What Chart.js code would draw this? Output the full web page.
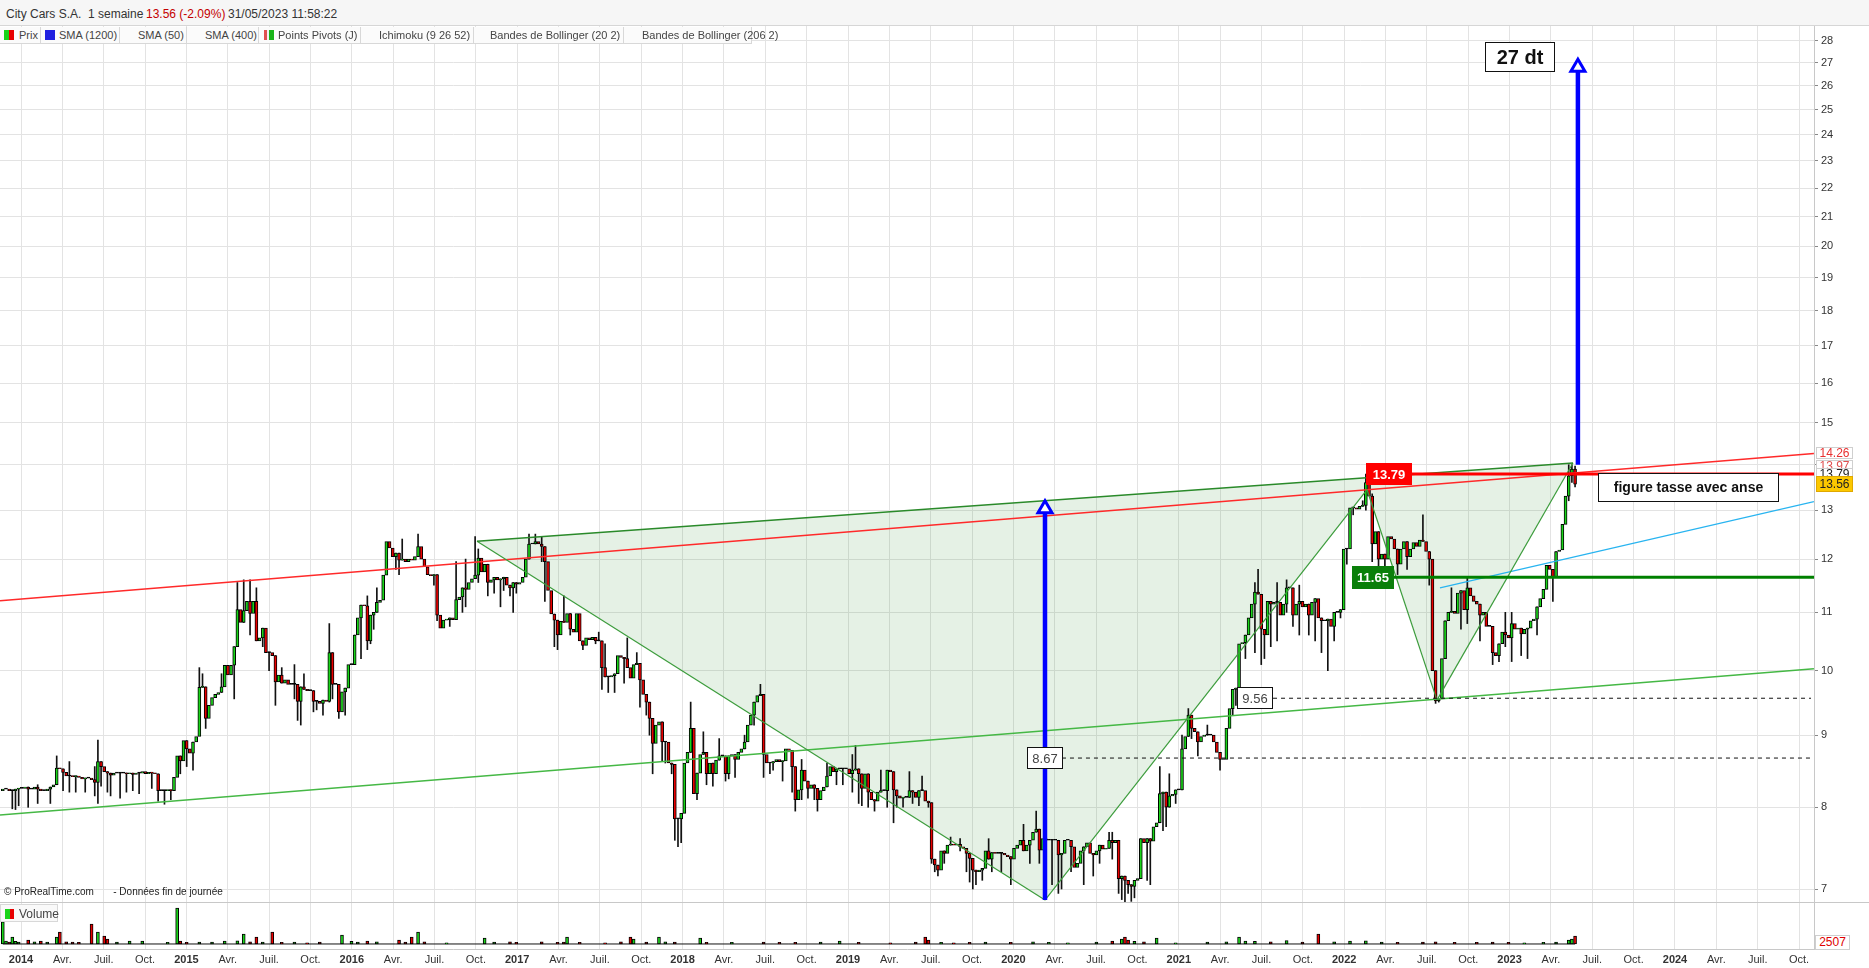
<!DOCTYPE html>
<html>
<head>
<meta charset="utf-8">
<title>City Cars S.A. - 1 semaine</title>
<style>
    body { margin: 0; background: #fff; font-family: "Liberation Sans", Arial, sans-serif; }
    #page { position: relative; width: 1869px; height: 968px; overflow: hidden; background: #fff; }
    canvas { position: absolute; left: 0; display: block; }
    #priceCanvas { top: 26px; }
    #volumeCanvas { top: 903px; }
    #header { position: absolute; left: 0; top: 0; width: 1869px; height: 26px; background: #f6f6f6;
              border-bottom: 1px solid #d6d6d6; box-sizing: border-box; font-size: 12px; color: #333; }
    #header span { position: absolute; top: 7px; white-space: nowrap; }
    .leg { position: absolute; top: 27px; height: 17px; box-sizing: border-box; background: #fbfbfb;
           border-right: 1px solid #d8d8d8; border-bottom: 1px solid #d8d8d8; font-size: 11px; color: #444;
           line-height: 16px; white-space: nowrap; }
    .leg i { position: absolute; top: 3px; width: 10px; height: 10px; }
    .leg b { position: absolute; top: 0; font-weight: normal; }
    .sep { position: absolute; left: 0; width: 1869px; height: 1px; background: #c8c8c8; }
    #credit { position: absolute; left: 4px; top: 886px; font-size: 10px; color: #222; white-space: nowrap; }
    #volLegend { position: absolute; left: 0; top: 904px; width: 58px; height: 18px; box-sizing: border-box;
                 border: 1px solid #d8d8d8; background: #f9f9f9; font-size: 12px; color: #444; }
    #volLegend i { position: absolute; left: 4px; top: 4px; width: 9px; height: 10px;
                   background: linear-gradient(90deg, #19d419 50%, #e80000 50%); }
    #volLegend b { position: absolute; left: 18px; top: 2px; font-weight: normal; }
    #volTag { position: absolute; left: 1815px; top: 935px; width: 35px; height: 15px; box-sizing: border-box;
              border: 1px solid #cfcfcf; background: #fff; color: #e00000; font-size: 12px; text-align: center; line-height: 13px; }
</style>
</head>
<body>
<div id="page">
    <div id="header">
        <span style="left:6px">City Cars S.A.</span>
        <span style="left:88px">1 semaine</span>
        <span style="left:146px;color:#c40000">13.56 (-2.09%)</span>
        <span style="left:228px">31/05/2023 11:58:22</span>
    </div>
    <canvas id="priceCanvas" width="1869" height="876"></canvas>
    <div class="leg" style="left:0;width:41px"><i style="left:4px;background:linear-gradient(90deg,#19d419 50%,#e80000 50%)"></i><b style="left:19px">Prix</b></div>
    <div class="leg" style="left:41px;width:79px"><i style="left:4px;background:#2020e0"></i><b style="left:18px">SMA (1200)</b></div>
    <div class="leg" style="left:120px;width:67px"><b style="left:18px">SMA (50)</b></div>
    <div class="leg" style="left:187px;width:72px"><b style="left:18px">SMA (400)</b></div>
    <div class="leg" style="left:259px;width:102px"><i style="left:5px;background:linear-gradient(90deg,#e05050 33%,#f0f0f0 33%,#f0f0f0 50%,#19b419 50%)"></i><b style="left:19px">Points Pivots (J)</b></div>
    <div class="leg" style="left:361px;width:113px"><b style="left:18px">Ichimoku (9 26 52)</b></div>
    <div class="leg" style="left:474px;width:150px"><b style="left:16px">Bandes de Bollinger (20 2)</b></div>
    <div class="leg" style="left:624px;width:128px"><b style="left:18px">Bandes de Bollinger (206 2)</b></div>
    <div id="credit">© ProRealTime.com &nbsp; &nbsp; &nbsp; - Données fin de journée</div>
    <div class="sep" style="top:902px"></div>
    <canvas id="volumeCanvas" width="1869" height="65"></canvas>
    <div id="volLegend"><i></i><b>Volume</b></div>
    <div id="volTag">2507</div>
</div>

<script src="https://cdn.jsdelivr.net/npm/chart.js@4.4.0/dist/chart.umd.min.js"></script>
<script>
    // ---- données (bougies hebdomadaires) ----
    const firstWeek = 2013.89;   // date (année décimale) de la première bougie
    const firstOpen = 8.22;

    // clôtures hebdomadaires, nov. 2013 -> mai 2023
    const closes = [
        8.24, 8.24, 8.22, 8.22, 8.24, 8.25, 8.25, 8.27, 8.24, 8.24,
        8.27, 8.24, 8.22, 8.22, 8.24, 8.27, 8.30, 8.53, 8.52, 8.47,
        8.42, 8.42, 8.41, 8.42, 8.40, 8.38, 8.39, 8.39, 8.37, 8.33,
        8.62, 8.55, 8.48, 8.46, 8.43, 8.46, 8.46, 8.46, 8.46, 8.45,
        8.46, 8.44, 8.46, 8.46, 8.48, 8.45, 8.47, 8.46, 8.45, 8.22,
        8.22, 8.22, 8.23, 8.22, 8.40, 8.70, 8.63, 8.92, 8.80, 8.74,
        8.90, 8.98, 9.73, 9.74, 9.25, 9.45, 9.57, 9.62, 9.65, 9.74,
        10.09, 9.93, 10.09, 10.40, 11.05, 10.82, 11.03, 11.20, 10.98, 11.20,
        10.50, 10.55, 10.72, 10.30, 10.30, 10.25, 9.82, 9.93, 9.80, 9.85,
        9.78, 9.78, 9.78, 9.51, 9.74, 9.70, 9.68, 9.68, 9.51, 9.51,
        9.48, 9.53, 9.51, 10.30, 9.78, 9.78, 9.35, 9.66, 9.72, 10.10,
        10.10, 10.60, 10.90, 11.13, 11.12, 10.50, 10.95, 11.00, 11.18, 11.22,
        11.69, 12.35, 12.22, 12.05, 12.12, 11.98, 12.00, 11.95, 12.00, 11.98,
        12.05, 12.25, 12.00, 11.85, 11.70, 11.68, 11.70, 10.95, 10.72, 10.86,
        10.87, 10.90, 10.87, 11.23, 11.28, 11.45, 11.42, 11.55, 11.62, 11.69,
        12.02, 11.75, 11.90, 11.55, 11.60, 11.65, 11.60, 11.62, 11.65, 11.50,
        11.45, 11.55, 11.52, 11.55, 11.65, 12.00, 12.30, 12.30, 12.35, 12.30,
        12.25, 11.95, 11.40, 10.97, 10.86, 10.60, 10.84, 10.82, 10.98, 10.70,
        10.65, 10.98, 10.50, 10.42, 10.55, 10.52, 10.56, 10.50, 10.50, 10.05,
        9.90, 9.90, 9.92, 9.95, 10.25, 10.22, 10.20, 10.05, 9.88, 10.10,
        10.12, 9.85, 9.62, 9.50, 9.25, 8.88, 9.15, 9.20, 8.90, 8.90,
        8.60, 8.58, 7.85, 7.85, 7.92, 8.60, 8.75, 9.10, 8.18, 8.46,
        8.72, 8.75, 8.45, 8.60, 8.45, 8.64, 8.70, 8.70, 8.45, 8.70,
        8.72, 8.65, 8.75, 8.80, 8.90, 9.15, 9.30, 9.50, 9.60, 9.62,
        8.72, 8.60, 8.60, 8.62, 8.65, 8.62, 8.63, 8.80, 8.78, 8.55,
        8.10, 8.23, 8.50, 8.35, 8.25, 8.30, 8.25, 8.10, 8.22, 8.27,
        8.42, 8.55, 8.48, 8.52, 8.52, 8.52, 8.52, 8.45, 8.50, 8.52,
        8.45, 8.25, 8.45, 8.20, 8.10, 8.08, 8.20, 8.22, 8.22, 8.50,
        8.48, 8.23, 8.15, 8.12, 8.13, 8.13, 8.22, 8.20, 8.13, 8.22,
        8.22, 8.08, 8.06, 7.35, 7.28, 7.22, 7.45, 7.42, 7.52, 7.53,
        7.52, 7.53, 7.50, 7.48, 7.42, 7.36, 7.22, 7.20, 7.22, 7.24,
        7.45, 7.35, 7.43, 7.42, 7.42, 7.42, 7.40, 7.38, 7.35, 7.48,
        7.52, 7.58, 7.45, 7.52, 7.58, 7.68, 7.72, 7.46, 7.60, 7.58,
        7.58, 7.58, 7.58, 7.40, 7.42, 7.58, 7.58, 7.50, 7.25, 7.30,
        7.45, 7.50, 7.55, 7.42, 7.40, 7.45, 7.52, 7.47, 7.48, 7.58,
        7.55, 7.58, 7.12, 7.15, 7.10, 7.05, 7.03, 7.10, 7.12, 7.60,
        7.55, 7.60, 7.57, 7.75, 7.80, 8.18, 8.20, 8.00, 8.15, 8.17,
        8.23, 8.23, 8.80, 8.98, 9.30, 9.10, 9.05, 8.90, 8.98, 9.00,
        9.00, 9.00, 8.90, 8.75, 8.65, 8.65, 9.10, 9.40, 9.70, 9.72,
        10.45, 10.47, 10.60, 10.90, 11.15, 11.37, 11.33, 10.70, 10.60, 11.20,
        11.15, 11.18, 11.18, 10.95, 11.15, 11.45, 11.45, 10.95, 11.15, 11.20,
        11.10, 11.15, 10.95, 11.18, 11.25, 10.90, 10.85, 10.85, 10.88, 10.75,
        11.00, 11.00, 11.05, 12.20, 12.20, 13.05, 13.05, 13.02, 13.08, 13.10,
        13.60, 13.30, 12.30, 12.55, 12.00, 12.10, 12.00, 12.45, 12.40, 12.20,
        11.90, 12.20, 12.35, 12.05, 12.20, 12.33, 12.25, 12.38, 12.35, 12.15,
        12.00, 10.00, 9.52, 9.55, 10.20, 10.85, 11.00, 11.02, 10.98, 11.35,
        11.40, 11.05, 11.45, 11.30, 11.20, 11.15, 10.95, 11.00, 10.75, 10.75,
        10.30, 10.25, 10.45, 10.65, 10.60, 10.55, 10.80, 10.70, 10.72, 10.62,
        10.70, 10.72, 10.85, 10.88, 11.10, 11.25, 11.42, 11.88, 11.80, 11.65,
        12.15, 12.18, 12.70, 13.30, 13.75, 13.90, 13.56
    ];

    // mèches visibles : [semaine, plus bas, plus haut] (null = pas de mèche de ce côté)
    const wicks = [
        [3, 7.98, null], [4, 7.97, null], [5, 8.02, null], [8, 8.0, null], [11, 8.05, 8.3], [15, 8.05, null],
        [17, null, 8.7], [19, 8.22, null], [21, 8.2, 8.62], [23, 8.2, null], [26, 8.2, null], [29, 8.15, 8.55],
        [30, 8.05, 8.93], [31, 8.28, null], [33, 8.2, null], [34, 8.15, null], [37, 8.12, null], [39, 8.2, null],
        [41, 8.22, null], [43, 8.18, null], [47, 8.25, null], [49, 8.08, null], [51, 8.04, null], [53, 8.1, null],
        [56, 8.45, null], [58, 8.55, null], [60, 8.5, null], [62, 9.0, 10.05], [63, null, 9.95], [64, 9.1, null],
        [65, 9.3, null], [69, null, 9.95], [73, 9.55, null], [74, null, 11.55], [76, null, 11.6], [78, 10.6, 11.6],
        [80, null, 11.45], [82, 10.4, null], [84, 10.0, null], [86, 9.45, null], [88, null, 10.05], [92, 9.55, 10.1],
        [93, 9.22, null], [94, 9.15, null], [95, null, 9.95], [98, 9.35, null], [99, 9.38, null], [101, 9.3, null],
        [103, 9.5, 10.8], [104, 9.55, null], [106, 9.25, null], [108, 9.3, null], [111, 10.3, null], [113, 10.2, null],
        [115, 10.35, 11.3], [116, 10.45, null], [117, 10.7, null], [118, null, 11.45], [124, 11.8, null], [125, 11.7, null],
        [126, null, 12.4], [131, null, 12.5], [136, 11.5, null], [137, 10.85, null], [141, 10.75, null], [143, null, 11.95],
        [145, 11.0, null], [146, 11.1, 12.0], [149, null, 12.45], [150, 11.55, 12.2], [153, 11.3, null], [155, 11.35, null],
        [157, 11.1, null], [158, 11.4, null], [160, 11.3, null], [161, 11.0, null], [162, 11.35, null], [166, null, 12.5],
        [168, null, 12.5], [170, 11.95, 12.45], [171, 11.2, null], [174, 10.4, null], [175, 10.35, null], [177, null, 11.3],
        [179, 10.6, null], [183, 10.35, null], [187, 10.45, null], [188, null, 10.65], [189, 9.7, null], [190, null, 10.45],
        [191, 9.65, null], [193, 9.65, null], [196, 9.8, null], [197, null, 10.55], [200, null, 10.3], [201, 9.42, null],
        [203, 9.3, null], [204, 9.0, null], [205, 8.45, null], [208, 8.62, null], [209, 8.6, null], [211, 8.45, null],
        [212, 7.58, null], [213, 7.5, null], [214, 7.55, null], [217, null, 9.5], [219, 8.1, null], [221, null, 9.05],
        [222, 8.3, null], [224, 8.28, null], [226, null, 8.95], [228, 8.35, null], [229, 8.38, null], [231, 8.4, null],
        [234, null, 9.0], [237, 9.15, null], [239, null, 9.78], [240, 8.4, null], [242, 8.45, null], [243, 8.5, null],
        [246, 8.35, null], [249, 8.2, null], [250, 7.95, null], [252, 8.1, 8.65], [254, 8.12, null], [256, 8.1, null],
        [257, 7.95, null], [260, null, 8.6], [263, 8.3, null], [265, 8.3, null], [268, 8.2, 8.72], [269, null, 8.85],
        [270, 8.05, null], [271, 8.02, null], [273, 8.0, null], [275, 7.95, null], [277, null, 8.5], [279, 8.0, null],
        [281, 7.8, null], [282, 8.0, null], [284, 8.0, null], [286, null, 8.48], [287, 8.05, null], [289, 8.02, null],
        [290, null, 8.42], [292, 8.0, null], [293, 7.3, null], [294, 7.2, null], [295, 7.15, null], [297, 7.3, null],
        [299, null, 7.62], [302, 7.45, 7.6], [304, 7.2, null], [305, 7.08, null], [306, 7.0, null], [307, 7.05, null],
        [309, 7.1, null], [311, null, 7.6], [312, 7.2, null], [315, 7.2, null], [318, 7.05, null], [322, null, 7.78],
        [324, 7.3, null], [326, null, 7.95], [327, 7.3, null], [329, 7.2, null], [331, 7.05, null], [333, 6.95, null],
        [334, 7.0, null], [337, 7.2, null], [341, 7.05, null], [344, 7.15, null], [346, 7.3, null], [349, null, 7.68],
        [350, 7.35, 7.68], [352, 6.95, null], [353, 6.88, null], [354, 6.85, null], [355, 6.95, null], [356, 6.86, null],
        [357, 6.9, null], [359, 7.3, null], [361, 7.1, null], [362, 7.05, null], [365, null, 8.55], [366, 7.7, null],
        [367, 7.75, null], [368, null, 8.45], [370, 8.05, null], [372, null, 9.0], [374, null, 9.4], [375, 8.95, null],
        [377, 8.7, null], [380, null, 9.15], [384, 8.5, null], [386, 8.9, null], [388, 9.3, null], [389, 9.45, null],
        [392, 10.2, null], [395, 10.3, 11.55], [396, null, 11.8], [397, 10.1, null], [398, 10.2, null], [400, 10.4, null],
        [402, 10.5, 11.55], [405, 11.0, 11.6], [407, 10.75, null], [409, 10.6, 11.5], [412, 10.6, null], [414, 10.5, null],
        [416, 10.3, null], [418, 10.0, null], [420, 10.5, null], [422, 10.9, null], [424, 11.9, null], [426, 12.9, null],
        [429, null, 13.2], [430, 13.0, 13.79], [432, 11.95, 13.35], [434, 11.75, null], [436, 11.85, null], [440, 11.7, null],
        [443, 11.8, null], [448, null, 12.9], [450, 11.5, null], [452, 9.48, null], [453, 9.5, null], [455, 10.5, null],
        [457, null, 11.45], [460, 10.7, null], [462, 10.8, 11.65], [466, 10.5, null], [470, 10.1, null], [472, 10.15, null],
        [474, 10.4, 11.0], [476, 10.15, 11.0], [479, 10.25, null], [481, 10.2, null], [484, 10.6, null], [489, 11.2, null],
        [490, 11.8, null], [492, 12.5, null], [494, 13.2, 14.0], [495, 13.6, 14.0], [496, 13.5, 13.97]
    ];

    // volumes visibles : [semaine, volume]
    const volumes = [
        [0, 6900], [1, 900], [2, 600], [3, 2200], [4, 800], [5, 600], [8, 1250], [10, 700], [12, 900], [14, 600],
        [17, 2200], [18, 3750], [20, 700], [22, 600], [24, 500], [28, 6260], [30, 3750], [32, 2500], [33, 1560],
        [36, 600], [40, 940], [44, 940], [52, 500], [55, 11270], [56, 900], [58, 500], [62, 600], [66, 600],
        [70, 900], [74, 1000], [76, 3130], [78, 700], [80, 2190], [82, 600], [85, 3760], [88, 500], [92, 600],
        [96, 400], [100, 600], [107, 2820], [110, 800], [112, 600], [115, 900], [118, 700], [125, 1250], [127, 600],
        [129, 2190], [131, 3760], [133, 700], [140, 400], [152, 1880], [155, 600], [160, 700], [162, 500], [170, 700],
        [175, 500], [177, 600], [178, 2190], [182, 500], [190, 400], [195, 700], [198, 2190], [199, 1560], [203, 600],
        [207, 2190], [209, 700], [212, 600], [220, 1880], [222, 500], [230, 500], [240, 600], [245, 500], [250, 500],
        [258, 600], [264, 900], [270, 500], [280, 400], [288, 600], [291, 2190], [292, 1250], [296, 500], [300, 400],
        [305, 500], [310, 600], [318, 500], [325, 700], [330, 500], [336, 400], [345, 600], [350, 900], [353, 1500],
        [354, 2190], [355, 1200], [357, 800], [360, 700], [364, 1880], [370, 400], [380, 600], [386, 700], [390, 2190],
        [392, 900], [395, 800], [400, 700], [405, 1100], [410, 600], [415, 3130], [420, 700], [425, 900], [430, 1000],
        [435, 600], [440, 500], [448, 600], [452, 700], [458, 500], [465, 500], [470, 600], [475, 500], [480, 400],
        [486, 500], [490, 600], [494, 1200], [495, 1560], [496, 2507]
    ];

    const yearTicks = [2014, 2015, 2016, 2017, 2018, 2019, 2020, 2021, 2022, 2023, 2024];
    const monthLabels = ['Avr.', 'Juil.', 'Oct.'];
    const priceTicks = [7, 8, 9, 10, 11, 12, 13, 14, 15, 16, 17, 18, 19, 20, 21, 22, 23, 24, 25, 26, 27, 28];

    // tracés de l'analyse : [date, prix]
    const channelTop = [[2013.873, 11.21], [2024.84, 14.26]];
    const channelBottom = [[2013.873, 7.90], [2024.84, 10.03]];
    const cupPoints = [[2016.757, 12.355], [2020.191, 6.875], [2022.138, 13.44], [2022.561, 9.53], [2023.383, 14.04]];
    const handleTrend = [[2022.579, 11.45], [2024.84, 13.18]];
    const levelPrices = [13.79, 11.65, 9.56, 8.67];
    const levelStarts = [2022.132, 2022.047, 2021.352, 2020.082];
    const arrowDates = [2020.191, 2023.413];
    const arrowFrom = [6.875, 14.0];
    const arrowTo = [13.2, 27.15];
    const targetNote = [2023.06, 27.26];      // "27 dt"
    const patternNote = [2023.534, 13.49];    // "figure tasse avec anse"
    const axisTagValues = [14.26, 13.97, 13.79, 13.56];

    // ---- construction ----
    const FONT = "'Liberation Sans', Arial, sans-serif";
    const UP = '#19d419', DOWN = '#e80000';
    const xMin = 2013.873, xMax = 2024.8404;

    const weekX = closes.map((c, i) => firstWeek + i * 7 / 365.25);
    const opens = closes.map((c, i) => (i === 0 ? firstOpen : closes[i - 1]));
    const candleColor = i => (closes[i] > opens[i] ? UP : closes[i] < opens[i] ? DOWN : '#000');

    const bodyData = closes.map((c, i) => ({ x: weekX[i], y: [opens[i], c] }));
    const wickData = wicks.map(([i, lo, hi]) => ({
        x: weekX[i],
        y: [lo ?? Math.min(opens[i], closes[i]), hi ?? Math.max(opens[i], closes[i])]
    }));
    const volData = volumes.map(([i, v]) => ({ x: weekX[i], y: v }));

    const quarterTicks = [];
    yearTicks.forEach(y => [0, 1, 2, 3].forEach(q => { if (y + q / 4 <= xMax) quarterTicks.push(y + q / 4); }));
    const isYear = v => Math.abs(v - Math.round(v)) < 1e-6;
    const quarterLabel = v => isYear(v) ? String(Math.round(v)) : monthLabels[Math.round((v - Math.floor(v)) * 4) - 1];

    const gridColor = '#e3e3e3';

    function pt(chart, d, p) {
        return { x: chart.scales.x.getPixelForValue(d), y: chart.scales.y.getPixelForValue(p) };
    }
    function seg(ctx, a, b, color, width, dash) {
        ctx.beginPath();
        ctx.setLineDash(dash || []);
        ctx.strokeStyle = color;
        ctx.lineWidth = width;
        ctx.moveTo(a.x, a.y);
        ctx.lineTo(b.x, b.y);
        ctx.stroke();
        ctx.setLineDash([]);
    }
    function box(ctx, left, yc, w, h, text, s) {
        const top = Math.round(yc - h / 2);
        left = Math.round(left);
        ctx.fillStyle = s.bg;
        ctx.fillRect(left, top, w, h);
        if (s.border) {
            ctx.strokeStyle = s.border;
            ctx.lineWidth = 1;
            ctx.strokeRect(left + 0.5, top + 0.5, w - 1, h - 1);
        }
        ctx.fillStyle = s.color;
        ctx.font = s.font;
        ctx.textAlign = 'center';
        ctx.textBaseline = 'middle';
        ctx.fillText(text, left + w / 2, top + h / 2 + 1);
    }

    const drawings = {
        id: 'drawings',
        beforeDatasetsDraw(chart) {
            const { ctx, chartArea: a } = chart;
            ctx.save();
            ctx.beginPath();
            ctx.rect(a.left, a.top, a.right - a.left, a.bottom - a.top);
            ctx.clip();
            ctx.beginPath();
            cupPoints.forEach(([d, p], k) => {
                const q = pt(chart, d, p);
                if (k) ctx.lineTo(q.x, q.y); else ctx.moveTo(q.x, q.y);
            });
            ctx.closePath();
            ctx.fillStyle = 'rgba(40,140,40,0.12)';
            ctx.fill();
            ctx.restore();
        },
        afterDatasetsDraw(chart) {
            const { ctx, chartArea: a } = chart;
            ctx.save();
            ctx.beginPath();
            ctx.rect(a.left, a.top, a.right - a.left, a.bottom - a.top);
            ctx.clip();

            // canal
            seg(ctx, pt(chart, ...channelTop[0]), pt(chart, ...channelTop[1]), '#ff2a2a', 1.5);
            seg(ctx, pt(chart, ...channelBottom[0]), pt(chart, ...channelBottom[1]), '#45b845', 1.5);
            seg(ctx, pt(chart, ...handleTrend[0]), pt(chart, ...handleTrend[1]), '#28b4f0', 1.2);

            // tasse + anse
            const cp = cupPoints.map(([d, p]) => pt(chart, d, p));
            for (let k = 0; k < cp.length - 1; k++) seg(ctx, cp[k], cp[k + 1], '#3c9c3c', 1.2);
            seg(ctx, cp[cp.length - 1], cp[0], '#2a8a2a', 1.3);

            // niveaux horizontaux
            const right = a.right;
            const lv = levelPrices.map((p, k) => ({ p, x: chart.scales.x.getPixelForValue(levelStarts[k]), y: chart.scales.y.getPixelForValue(p) }));
            seg(ctx, { x: lv[0].x, y: lv[0].y }, { x: right, y: lv[0].y }, '#ff0000', 3);
            seg(ctx, { x: lv[1].x, y: lv[1].y }, { x: right, y: lv[1].y }, '#008000', 3);
            seg(ctx, { x: lv[2].x + 36, y: lv[2].y }, { x: right - 3, y: lv[2].y }, '#111', 1, [4, 4]);
            seg(ctx, { x: lv[3].x + 35, y: lv[3].y }, { x: right - 3, y: lv[3].y }, '#111', 1, [4, 4]);

            // flèches
            arrowDates.forEach((d, k) => {
                const b = pt(chart, d, arrowFrom[k]), t = pt(chart, d, arrowTo[k]);
                const head = 12, half = 7;
                ctx.strokeStyle = '#0000ff';
                ctx.lineWidth = 4.5;
                ctx.beginPath();
                ctx.moveTo(b.x, b.y);
                ctx.lineTo(t.x, t.y + head);
                ctx.stroke();
                ctx.beginPath();
                ctx.moveTo(t.x, t.y);
                ctx.lineTo(t.x - half, t.y + head);
                ctx.lineTo(t.x + half, t.y + head);
                ctx.closePath();
                ctx.fillStyle = '#fff';
                ctx.fill();
                ctx.lineWidth = 3;
                ctx.stroke();
            });

            // étiquettes des niveaux
            box(ctx, lv[0].x, lv[0].y, 46, 22, '13.79', { bg: '#ff0000', color: '#fff', font: 'bold 13px ' + FONT });
            box(ctx, lv[1].x, lv[1].y, 42, 23, '11.65', { bg: '#0a7f0a', color: '#fff', font: 'bold 13px ' + FONT });
            box(ctx, lv[2].x, lv[2].y, 36, 22, '9.56', { bg: '#fff', border: '#111', color: '#444', font: '13px ' + FONT });
            box(ctx, lv[3].x, lv[3].y, 36, 22, '8.67', { bg: '#fff', border: '#111', color: '#444', font: '13px ' + FONT });

            // notes
            const tn = pt(chart, targetNote[0], targetNote[1]);
            box(ctx, tn.x - 35, tn.y, 70, 30, '27 dt', { bg: '#fff', border: '#111', color: '#111', font: 'bold 20px ' + FONT });
            const pn = pt(chart, patternNote[0], patternNote[1]);
            box(ctx, pn.x, pn.y, 181, 29, 'figure tasse avec anse', { bg: '#fff', border: '#111', color: '#111', font: 'bold 14px ' + FONT });
            ctx.restore();

            // étiquettes sur l'axe des prix
            const tagStyles = [
                { bg: '#fff', border: '#cfcfcf', color: '#e83030' },
                { bg: '#fff', border: '#cfcfcf', color: '#e05050' },
                { bg: '#fff', border: '#cfcfcf', color: '#222' },
                { bg: '#fcc800', border: '#e0a800', color: '#222' }
            ];
            axisTagValues.forEach((v, k) => {
                const y = chart.scales.y.getPixelForValue(v);
                const h = k === 3 ? 16 : 12;
                box(ctx, a.right + 2, y, 37, h, v.toFixed(2), Object.assign({ font: '12px ' + FONT }, tagStyles[k]));
            });
        }
    };

    const priceChart = new Chart(document.getElementById('priceCanvas'), {
        type: 'bar',
        data: {
            datasets: [
                { label: 'mèches', data: wickData, backgroundColor: '#111', barThickness: 1, grouped: false, order: 2 },
                {
                    label: 'Prix', data: bodyData, backgroundColor: bodyData.map((d, i) => candleColor(i)),
                    borderColor: '#000', borderWidth: 1, borderSkipped: false, barThickness: 3, minBarLength: 1,
                    grouped: false, order: 1
                }
            ]
        },
        options: {
            responsive: false,
            animation: false,
            layout: { padding: 0 },
            plugins: { legend: { display: false }, tooltip: { enabled: false } },
            scales: {
                x: {
                    type: 'linear', min: xMin, max: xMax, offset: false,
                    afterBuildTicks: s => { s.ticks = quarterTicks.map(v => ({ value: v })); },
                    afterFit: s => { s.height = 0; s.paddingLeft = 0; s.paddingRight = 0; },
                    ticks: { display: false },
                    grid: { color: gridColor, drawTicks: false, offset: false },
                    border: { display: false }
                },
                y: {
                    type: 'logarithmic', position: 'right', min: 6.853, max: 28.67,
                    afterBuildTicks: s => { s.ticks = priceTicks.map(v => ({ value: v })); },
                    afterFit: s => { s.width = 55; s.paddingTop = 0; s.paddingBottom = 0; },
                    ticks: {
                        autoSkip: false, padding: 3, color: '#333', font: { family: FONT, size: 11 },
                        callback: v => (v === 14 ? '' : String(v))
                    },
                    grid: { color: gridColor, tickColor: '#888', tickLength: 4 },
                    border: { display: true, color: '#c8c8c8' }
                }
            }
        },
        plugins: [drawings]
    });

    const volumeChart = new Chart(document.getElementById('volumeCanvas'), {
        type: 'bar',
        data: {
            datasets: [
                {
                    type: 'line', label: 'base', data: [{ x: weekX[0], y: 0 }, { x: weekX[weekX.length - 1], y: 0 }],
                    borderColor: '#111', borderWidth: 1, pointRadius: 0, order: 2
                },
                {
                    label: 'Volume', data: volData, backgroundColor: volumes.map(([i]) => (closes[i] < opens[i] ? DOWN : UP)),
                    borderColor: '#000', borderWidth: 1, borderSkipped: false, barThickness: 3, grouped: false, order: 1
                }
            ]
        },
        options: {
            responsive: false,
            animation: false,
            layout: { padding: 0 },
            plugins: { legend: { display: false }, tooltip: { enabled: false } },
            scales: {
                x: {
                    type: 'linear', min: xMin, max: xMax, offset: false, position: 'bottom',
                    afterBuildTicks: s => { s.ticks = quarterTicks.map(v => ({ value: v })); },
                    afterFit: s => { s.height = 19; s.paddingLeft = 0; s.paddingRight = 0; },
                    ticks: {
                        autoSkip: false, maxRotation: 0, padding: 4, color: '#333',
                        font: c => ({ family: FONT, size: 11, weight: (c.tick && isYear(c.tick.value)) ? 'bold' : 'normal' }),
                        callback: v => quarterLabel(v)
                    },
                    grid: { color: gridColor, drawTicks: false, offset: false },
                    border: { display: true, color: '#c8c8c8' }
                },
                y: {
                    type: 'linear', position: 'right', min: -1570, max: 12830,
                    afterFit: s => { s.width = 55; s.paddingTop = 0; s.paddingBottom = 0; },
                    ticks: { display: false },
                    grid: { display: false },
                    border: { display: true, color: '#c8c8c8' }
                }
            }
        }
    });
</script>
</body>
</html>
